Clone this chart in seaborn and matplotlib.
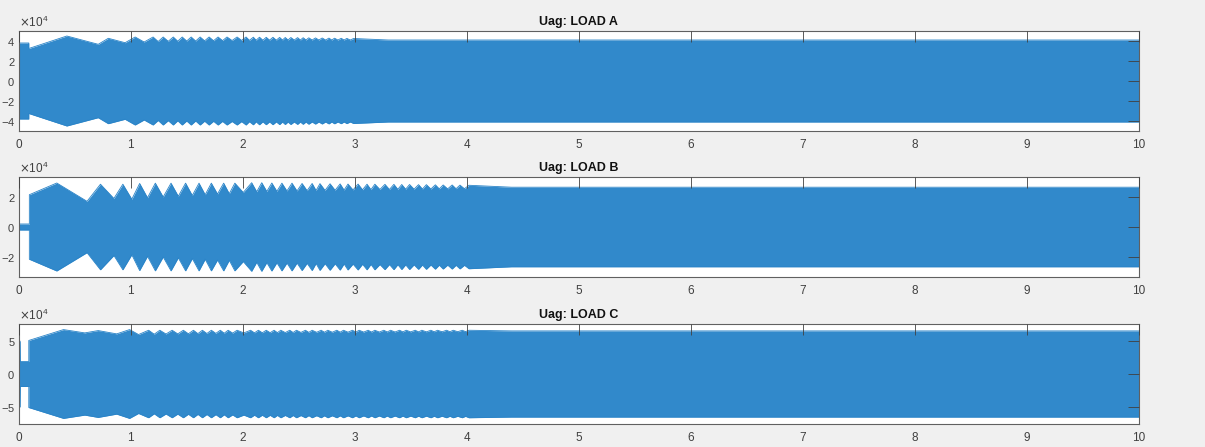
import numpy as np
import pandas as pd
import matplotlib
matplotlib.use("Agg")
import matplotlib.pyplot as plt
import seaborn as sns
from matplotlib.ticker import ScalarFormatter

# --- DATA: envelope of the phase voltage (units of 1e4 V) ---
TITLES = ["Uag: LOAD A", "Uag: LOAD B", "Uag: LOAD C"]
X_TICKS = [0, 1, 2, 3, 4, 5, 6, 7, 8, 9, 10]

A_T = [0.00, 0.09, 0.09, 0.43, 0.71, 0.80, 0.95, 1.04, 1.12, 1.20,
       1.245, 1.29, 1.335, 1.38, 1.42, 1.46, 1.50, 1.54, 1.58, 1.62,
       1.66, 1.70, 1.74, 1.78, 1.82, 1.86, 1.905, 1.95, 1.99, 2.03,
       2.06, 2.095, 2.12, 2.15, 2.18, 2.21, 2.24, 2.27, 2.30, 2.33,
       2.355, 2.38, 2.405, 2.43, 2.46, 2.49, 2.515, 2.54, 2.565, 2.59,
       2.62, 2.65, 2.68, 2.71, 2.74, 2.77, 2.795, 2.82, 2.85, 2.88,
       2.905, 2.93, 2.96, 2.99, 3.30, 10.0]
A_AMP = [3.80, 3.80, 3.25, 4.50, 3.67, 4.27, 3.83, 4.40, 3.90, 4.40,
         3.95, 4.40, 3.97, 4.40, 3.98, 4.40, 4.00, 4.40, 4.00, 4.40,
         4.02, 4.40, 4.03, 4.40, 4.04, 4.40, 4.05, 4.40, 4.06, 4.40,
         4.07, 4.38, 4.08, 4.38, 4.08, 4.37, 4.09, 4.37, 4.09, 4.36,
         4.10, 4.35, 4.10, 4.35, 4.10, 4.34, 4.10, 4.33, 4.10, 4.32,
         4.10, 4.31, 4.10, 4.30, 4.10, 4.29, 4.10, 4.28, 4.10, 4.27,
         4.10, 4.26, 4.10, 4.25, 4.10, 4.10]

B_T = [0.00, 0.095, 0.095, 0.34, 0.61, 0.73, 0.85, 0.93, 1.01, 1.08,
       1.15, 1.22, 1.29, 1.36, 1.425, 1.49, 1.55, 1.61, 1.665, 1.72,
       1.775, 1.83, 1.88, 1.93, 2.005, 2.08, 2.125, 2.17, 2.215, 2.26,
       2.305, 2.35, 2.395, 2.44, 2.485, 2.53, 2.575, 2.62, 2.655, 2.69,
       2.735, 2.78, 2.825, 2.87, 2.905, 2.94, 2.985, 3.03, 3.07, 3.11,
       3.145, 3.18, 3.225, 3.27, 3.31, 3.35, 3.385, 3.42, 3.455, 3.49,
       3.53, 3.57, 3.605, 3.64, 3.68, 3.72, 3.755, 3.79, 3.83, 3.87,
       3.905, 3.94, 3.98, 4.02, 4.40, 10.0]
B_AMP = [0.20, 0.20, 2.15, 2.93, 1.71, 2.85, 1.90, 2.85, 1.85, 2.90,
         1.95, 2.92, 2.00, 2.92, 2.05, 2.92, 2.10, 2.92, 2.15, 2.92,
         2.20, 2.92, 2.22, 2.92, 2.30, 2.95, 2.35, 2.95, 2.37, 2.93,
         2.38, 2.92, 2.40, 2.92, 2.40, 2.90, 2.42, 2.90, 2.43, 2.89,
         2.44, 2.88, 2.45, 2.87, 2.46, 2.86, 2.47, 2.86, 2.48, 2.85,
         2.49, 2.85, 2.50, 2.84, 2.50, 2.84, 2.51, 2.83, 2.52, 2.83,
         2.52, 2.82, 2.53, 2.82, 2.53, 2.81, 2.54, 2.80, 2.54, 2.80,
         2.55, 2.79, 2.55, 2.78, 2.65, 2.65]

C_T = [0.00, 0.012, 0.014, 0.09, 0.09, 0.40, 0.59, 0.71, 0.875, 0.99,
       1.07, 1.16, 1.21, 1.26, 1.315, 1.37, 1.42, 1.47, 1.515, 1.56,
       1.60, 1.64, 1.68, 1.72, 1.76, 1.80, 1.835, 1.87, 1.91, 1.95,
       2.01, 2.07, 2.105, 2.14, 2.175, 2.21, 2.245, 2.28, 2.31, 2.34,
       2.38, 2.42, 2.45, 2.48, 2.52, 2.56, 2.59, 2.62, 2.66, 2.70,
       2.73, 2.76, 2.80, 2.84, 2.87, 2.90, 2.94, 2.98, 3.01, 3.04,
       3.08, 3.12, 3.15, 3.18, 3.22, 3.26, 3.29, 3.32, 3.36, 3.40,
       3.43, 3.46, 3.50, 3.54, 3.57, 3.60, 3.64, 3.68, 3.71, 3.74,
       3.78, 3.82, 3.85, 3.88, 3.92, 3.96, 3.99, 4.02, 4.40, 10.0]
C_AMP = [5.00, 5.00, 1.90, 1.90, 5.10, 6.75, 6.25, 6.60, 6.10, 6.75,
         6.00, 6.65, 6.05, 6.65, 6.08, 6.65, 6.10, 6.65, 6.12, 6.65,
         6.14, 6.65, 6.16, 6.65, 6.18, 6.65, 6.20, 6.65, 6.22, 6.65,
         6.25, 6.65, 6.26, 6.65, 6.27, 6.65, 6.28, 6.65, 6.29, 6.65,
         6.30, 6.65, 6.31, 6.65, 6.32, 6.65, 6.33, 6.65, 6.34, 6.65,
         6.35, 6.65, 6.35, 6.65, 6.36, 6.65, 6.36, 6.65, 6.37, 6.65,
         6.37, 6.65, 6.38, 6.65, 6.38, 6.65, 6.39, 6.65, 6.39, 6.65,
         6.40, 6.65, 6.40, 6.65, 6.41, 6.65, 6.41, 6.65, 6.42, 6.65,
         6.42, 6.65, 6.43, 6.65, 6.43, 6.65, 6.44, 6.65, 6.55, 6.55]

A_YTICKS = [-4, -2, 0, 2, 4]
B_YTICKS = [-2, 0, 2]
C_YTICKS = [-5, 0, 5]
Y_LIMS = [5.0, 3.33, 7.6]

# --- STYLE ---
BLUE = "#3189cb"
EDGE = "#2a84c8"
AXIS_GRAY = "#404040"
FIG_W, FIG_H = 1205, 447

sns.set_style("white")
plt.rcParams["font.family"] = ["Liberation Sans", "DejaVu Sans"]
plt.rcParams["axes.unicode_minus"] = True


def draw_panel(ax, t, amp, yticks, ylim, title):
    df = pd.DataFrame({"t": t, "up": np.array(amp) * 1e4})
    df["low"] = -df["up"]
    ax.fill_between(df["t"], df["low"], df["up"], color=BLUE, lw=0)
    sns.lineplot(data=df, x="t", y="up", ax=ax, color=EDGE, lw=0.6,
                 estimator=None, sort=False)
    sns.lineplot(data=df, x="t", y="low", ax=ax, color=EDGE, lw=0.6,
                 estimator=None, sort=False)

    ax.set_xlim(0, 10)
    ax.set_ylim(-ylim * 1e4, ylim * 1e4)
    ax.set_xticks(X_TICKS)
    ax.set_yticks(np.array(yticks) * 1e4)
    ax.set_xlabel("")
    ax.set_ylabel("")

    fmt = ScalarFormatter(useMathText=True)
    fmt.set_powerlimits((0, 0))
    ax.yaxis.set_major_formatter(fmt)
    ax.yaxis.get_offset_text().set_fontsize(8.5)
    ax.yaxis.get_offset_text().set_color(AXIS_GRAY)

    ax.set_facecolor("white")
    ax.set_axisbelow(False)
    for sp in ax.spines.values():
        sp.set_color("#606060")
        sp.set_linewidth(0.8)
    ax.tick_params(axis="both", direction="in", length=8, width=0.6,
                   top=True, right=True, colors=AXIS_GRAY)
    ax.tick_params(axis="x", pad=6, labelsize=8.5)
    ax.tick_params(axis="y", pad=2.5, labelsize=8)
    ax.set_title(title, fontsize=9, fontweight="bold", pad=4, color="#111111")


fig = plt.figure(figsize=(FIG_W / 100, FIG_H / 100), dpi=100, facecolor="#f0f0f0")

# axes boxes in pixels: (left, top, right, bottom)
boxes = [(18.7, 31, 1138.7, 131), (18.7, 177, 1138.7, 277), (18.7, 324, 1138.7, 424)]
panels = [(A_T, A_AMP, A_YTICKS), (B_T, B_AMP, B_YTICKS), (C_T, C_AMP, C_YTICKS)]

for (l, tp, r, b), (t, amp, yt), ylim, title in zip(boxes, panels, Y_LIMS, TITLES):
    ax = fig.add_axes([l / FIG_W, 1 - b / FIG_H, (r - l) / FIG_W, (b - tp) / FIG_H])
    draw_panel(ax, t, amp, yt, ylim, title)

fig.savefig("out.png", dpi=100, facecolor=fig.get_facecolor())
